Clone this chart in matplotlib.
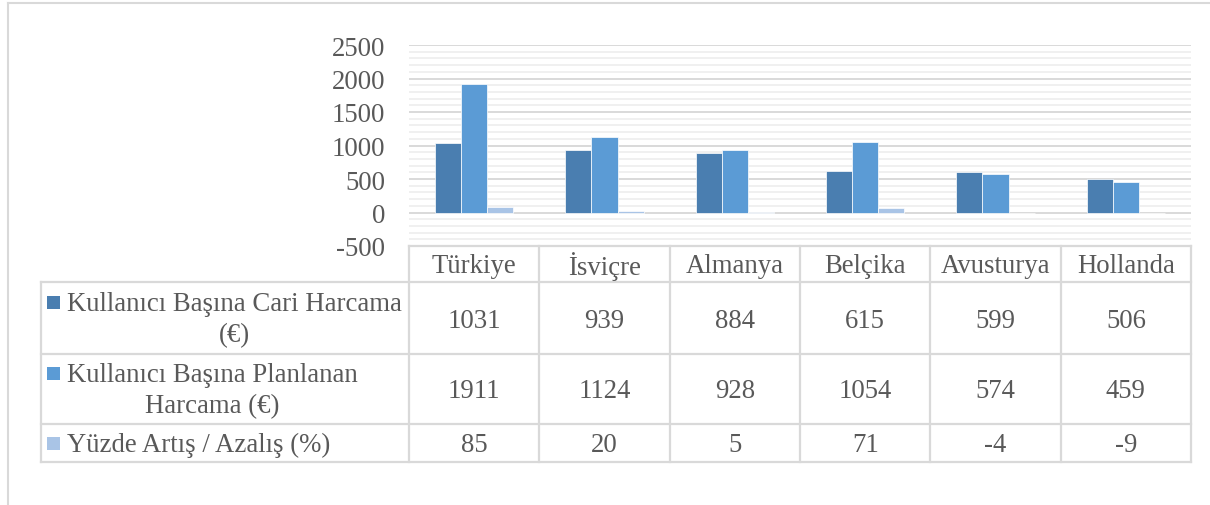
import matplotlib
matplotlib.use("Agg")
import matplotlib.pyplot as plt
from matplotlib.lines import Line2D
from matplotlib.patches import Rectangle
from matplotlib.ticker import MultipleLocator
from matplotlib.transforms import blended_transform_factory
import numpy as np

# ------------------------------------------------------------
# Veriler
# ------------------------------------------------------------
countries = ["Türkiye", "İsviçre", "Almanya", "Belçika", "Avusturya", "Hollanda"]
current_spend = [1031, 939, 884, 615, 599, 506]
planned_spend = [1911, 1124, 928, 1054, 574, 459]
change_pct = [85, 20, 5, 71, -4, -9]

series_labels = [
    "Kullanıcı Başına Cari Harcama\n(€)",
    "Kullanıcı Başına Planlanan\nHarcama (€)",
    "Yüzde Artış / Azalış (%)",
]
series_values = [current_spend, planned_spend, change_pct]
series_colors = ["#4A7EB0", "#5B9BD5", "#A9C4E6"]

y_ticks = [-500, 0, 500, 1000, 1500, 2000, 2500]

# ------------------------------------------------------------
# Görünüm
# ------------------------------------------------------------
W, H = 1210, 506
TEXT_COLOR = "#595959"
LINE_COLOR = "#D9D9D9"
FONT_SIZE = 19.3

plt.rcParams["font.family"] = ["Liberation Serif", "DejaVu Serif"]
plt.rcParams["axes.unicode_minus"] = False


def fx(x_px):
    return x_px / W


def fy(y_px):
    return 1.0 - y_px / H


fig = plt.figure(figsize=(W / 100, H / 100), dpi=100)
ax = fig.add_axes([fx(409), fy(247), fx(1191) - fx(409), fy(46) - fy(247)])

x = np.arange(len(countries))
bar_width = 0.2
offsets = [-bar_width, 0.0, bar_width]
for values, color, off in zip(series_values, series_colors, offsets):
    ax.bar(x + off, values, width=bar_width, color=color,
           edgecolor="white", linewidth=0.5, zorder=3)

ax.set_xlim(-0.5, len(countries) - 0.5)
ax.set_ylim(y_ticks[0], y_ticks[-1])
ax.set_yticks(y_ticks)
ax.yaxis.set_minor_locator(MultipleLocator(100))
ax.set_xticks([])
ax.grid(True, axis="y", which="major", color=LINE_COLOR, linewidth=1.4, zorder=1)
ax.grid(True, axis="y", which="minor", color="#F0F0F0", linewidth=1.4, zorder=0)
ax.tick_params(axis="y", which="both", length=0, pad=17,
               labelsize=FONT_SIZE, labelcolor=TEXT_COLOR)
for spine in ax.spines.values():
    spine.set_visible(False)

# ------------------------------------------------------------
# Veri tablosu
# ------------------------------------------------------------
row_edges = [247, 283, 355, 425, 463]      # piksel
table_left = 41
key_left, key_size = 47, 13
text_left = 67
line_height = 31
text_shift = 2                              # metni biraz aşağı kaydır

x_right = ax.get_position().x1
x_axes_left = ax.get_position().x0
blend = blended_transform_factory(ax.transData, fig.transFigure)


def fig_line(xs, ys, transform):
    fig.add_artist(Line2D(xs, ys, color=LINE_COLOR, linewidth=1.6,
                          transform=transform, solid_capstyle="projecting"))


# yatay çizgiler
fig_line([x_axes_left, x_right], [fy(row_edges[0])] * 2, fig.transFigure)
for y_px in row_edges[1:]:
    fig_line([fx(table_left), x_right], [fy(y_px)] * 2, fig.transFigure)

# dikey çizgiler
fig_line([fx(table_left)] * 2, [fy(row_edges[1]), fy(row_edges[-1])], fig.transFigure)
for b in np.arange(len(countries) + 1) - 0.5:
    fig_line([b, b], [fy(row_edges[0]), fy(row_edges[-1])], blend)

# başlık satırı
header_y = fy((row_edges[0] + row_edges[1]) / 2 + text_shift)
for i, name in enumerate(countries):
    fig.text(i, header_y, name, transform=blend, ha="center", va="center",
             fontsize=FONT_SIZE, color=TEXT_COLOR)

# veri satırları
for r, (label, values, color) in enumerate(zip(series_labels, series_values, series_colors)):
    top, bottom = row_edges[r + 1], row_edges[r + 2]
    center_px = (top + bottom) / 2
    n_lines = label.count("\n") + 1
    first_line_px = center_px - (n_lines - 1) * line_height / 2

    fig.add_artist(Rectangle((fx(key_left), fy(first_line_px + key_size / 2)),
                             fx(key_size), key_size / H, transform=fig.transFigure,
                             facecolor=color, edgecolor="none"))
    fig.text(fx(text_left), fy(center_px + 1), label, ha="left", va="center",
             multialignment="center", linespacing=1.3,
             fontsize=FONT_SIZE, color=TEXT_COLOR)

    for i, v in enumerate(values):
        fig.text(i, fy(center_px + text_shift), f"{v}", transform=blend,
                 ha="center", va="center", fontsize=FONT_SIZE, color=TEXT_COLOR)

# grafik çerçevesi (üst ve sol)
fig.add_artist(Line2D([fx(8), 1.0], [fy(4), fy(4)], color=LINE_COLOR,
                      linewidth=1.5, transform=fig.transFigure))
fig.add_artist(Line2D([fx(8), fx(8)], [fy(4), 0.0], color=LINE_COLOR,
                      linewidth=1.5, transform=fig.transFigure))

fig.savefig("out.png", dpi=100)
